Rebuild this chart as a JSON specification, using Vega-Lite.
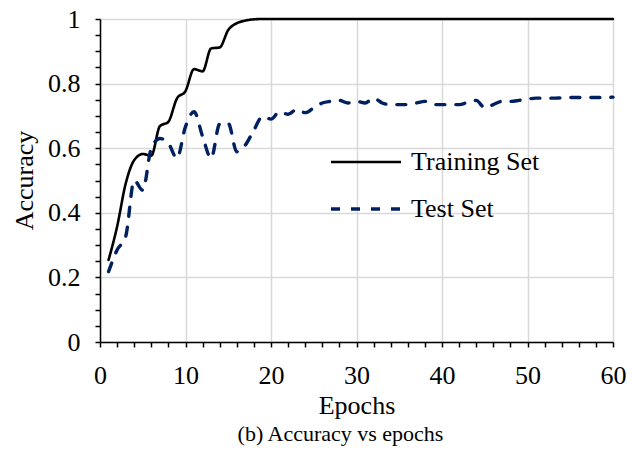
{
  "$schema": "https://vega.github.io/schema/vega-lite/v6.json",
  "autosize": {"type": "none"},
  "padding": {"left": 100, "top": 19, "right": 21, "bottom": 107},
  "width": 513,
  "height": 323,
  "background": "white",
  "title": {
    "text": "(b) Accuracy vs epochs",
    "orient": "bottom",
    "font": "Liberation Serif",
    "fontSize": 22,
    "fontWeight": "normal",
    "color": "black",
    "dx": -16,
    "offset": 6
  },
  "data": {
    "values": [
      {"epoch": 1, "set": "Training Set", "acc": 0.254},
      {"epoch": 2, "set": "Training Set", "acc": 0.357},
      {"epoch": 3, "set": "Training Set", "acc": 0.49},
      {"epoch": 4, "set": "Training Set", "acc": 0.563},
      {"epoch": 5, "set": "Training Set", "acc": 0.582},
      {"epoch": 6, "set": "Training Set", "acc": 0.577},
      {"epoch": 7, "set": "Training Set", "acc": 0.668},
      {"epoch": 8, "set": "Training Set", "acc": 0.682},
      {"epoch": 9, "set": "Training Set", "acc": 0.754},
      {"epoch": 10, "set": "Training Set", "acc": 0.777},
      {"epoch": 11, "set": "Training Set", "acc": 0.845},
      {"epoch": 12, "set": "Training Set", "acc": 0.838},
      {"epoch": 13, "set": "Training Set", "acc": 0.909},
      {"epoch": 14, "set": "Training Set", "acc": 0.912},
      {"epoch": 15, "set": "Training Set", "acc": 0.966},
      {"epoch": 16, "set": "Training Set", "acc": 0.987},
      {"epoch": 17, "set": "Training Set", "acc": 0.995},
      {"epoch": 18, "set": "Training Set", "acc": 0.999},
      {"epoch": 19, "set": "Training Set", "acc": 1},
      {"epoch": 20, "set": "Training Set", "acc": 1},
      {"epoch": 25, "set": "Training Set", "acc": 1},
      {"epoch": 30, "set": "Training Set", "acc": 1},
      {"epoch": 35, "set": "Training Set", "acc": 1},
      {"epoch": 40, "set": "Training Set", "acc": 1},
      {"epoch": 45, "set": "Training Set", "acc": 1},
      {"epoch": 50, "set": "Training Set", "acc": 1},
      {"epoch": 55, "set": "Training Set", "acc": 1},
      {"epoch": 60, "set": "Training Set", "acc": 1},
      {"epoch": 1, "set": "Test Set", "acc": 0.218},
      {"epoch": 2, "set": "Test Set", "acc": 0.285},
      {"epoch": 3, "set": "Test Set", "acc": 0.326},
      {"epoch": 4, "set": "Test Set", "acc": 0.5},
      {"epoch": 5, "set": "Test Set", "acc": 0.47},
      {"epoch": 6, "set": "Test Set", "acc": 0.6},
      {"epoch": 7, "set": "Test Set", "acc": 0.63},
      {"epoch": 8, "set": "Test Set", "acc": 0.615},
      {"epoch": 9, "set": "Test Set", "acc": 0.569},
      {"epoch": 10, "set": "Test Set", "acc": 0.667},
      {"epoch": 11, "set": "Test Set", "acc": 0.713},
      {"epoch": 12, "set": "Test Set", "acc": 0.636},
      {"epoch": 13, "set": "Test Set", "acc": 0.569},
      {"epoch": 14, "set": "Test Set", "acc": 0.675},
      {"epoch": 15, "set": "Test Set", "acc": 0.677},
      {"epoch": 16, "set": "Test Set", "acc": 0.589},
      {"epoch": 17, "set": "Test Set", "acc": 0.61},
      {"epoch": 18, "set": "Test Set", "acc": 0.656},
      {"epoch": 19, "set": "Test Set", "acc": 0.698},
      {"epoch": 20, "set": "Test Set", "acc": 0.69},
      {"epoch": 21, "set": "Test Set", "acc": 0.713},
      {"epoch": 22, "set": "Test Set", "acc": 0.705},
      {"epoch": 23, "set": "Test Set", "acc": 0.72},
      {"epoch": 24, "set": "Test Set", "acc": 0.71},
      {"epoch": 25, "set": "Test Set", "acc": 0.725},
      {"epoch": 26, "set": "Test Set", "acc": 0.74},
      {"epoch": 27, "set": "Test Set", "acc": 0.745},
      {"epoch": 28, "set": "Test Set", "acc": 0.748},
      {"epoch": 29, "set": "Test Set", "acc": 0.74},
      {"epoch": 30, "set": "Test Set", "acc": 0.745},
      {"epoch": 31, "set": "Test Set", "acc": 0.74},
      {"epoch": 32, "set": "Test Set", "acc": 0.755},
      {"epoch": 33, "set": "Test Set", "acc": 0.74},
      {"epoch": 34, "set": "Test Set", "acc": 0.735},
      {"epoch": 35, "set": "Test Set", "acc": 0.735},
      {"epoch": 36, "set": "Test Set", "acc": 0.735},
      {"epoch": 37, "set": "Test Set", "acc": 0.74},
      {"epoch": 38, "set": "Test Set", "acc": 0.745},
      {"epoch": 39, "set": "Test Set", "acc": 0.735},
      {"epoch": 40, "set": "Test Set", "acc": 0.735},
      {"epoch": 41, "set": "Test Set", "acc": 0.735},
      {"epoch": 42, "set": "Test Set", "acc": 0.735},
      {"epoch": 43, "set": "Test Set", "acc": 0.742},
      {"epoch": 44, "set": "Test Set", "acc": 0.748},
      {"epoch": 45, "set": "Test Set", "acc": 0.725},
      {"epoch": 46, "set": "Test Set", "acc": 0.735},
      {"epoch": 47, "set": "Test Set", "acc": 0.745},
      {"epoch": 48, "set": "Test Set", "acc": 0.745},
      {"epoch": 49, "set": "Test Set", "acc": 0.748},
      {"epoch": 50, "set": "Test Set", "acc": 0.752},
      {"epoch": 51, "set": "Test Set", "acc": 0.755},
      {"epoch": 52, "set": "Test Set", "acc": 0.755},
      {"epoch": 53, "set": "Test Set", "acc": 0.755},
      {"epoch": 54, "set": "Test Set", "acc": 0.756},
      {"epoch": 55, "set": "Test Set", "acc": 0.757},
      {"epoch": 56, "set": "Test Set", "acc": 0.757},
      {"epoch": 57, "set": "Test Set", "acc": 0.757},
      {"epoch": 58, "set": "Test Set", "acc": 0.757},
      {"epoch": 59, "set": "Test Set", "acc": 0.757},
      {"epoch": 60, "set": "Test Set", "acc": 0.758}
    ]
  },
  "mark": {"type": "line", "interpolate": "monotone", "strokeCap": "round", "clip": false},
  "encoding": {
    "x": {
      "field": "epoch",
      "type": "quantitative",
      "scale": {"domain": [0, 60], "nice": false},
      "axis": {
        "title": "Epochs",
        "values": [0, 2, 4, 6, 8, 10, 12, 14, 16, 18, 20, 22, 24, 26, 28, 30, 32, 34, 36, 38, 40, 42, 44, 46, 48, 50, 52, 54, 56, 58, 60],
        "labelExpr": "datum.value % 10 === 0 ? datum.label : ''",
        "labelOverlap": false,
        "labelFlush": false,
        "labelPadding": 15,
        "gridOpacity": {"condition": {"test": "datum.value % 10 === 0", "value": 1}, "value": 0},
        "titleBaseline": "alphabetic",
        "titleY": 71
      }
    },
    "y": {
      "field": "acc",
      "type": "quantitative",
      "scale": {"domain": [0, 1], "nice": false},
      "axis": {
        "title": "Accuracy",
        "values": [0, 0.05, 0.1, 0.15, 0.2, 0.25, 0.3, 0.35, 0.4, 0.45, 0.5, 0.55, 0.6, 0.65, 0.7, 0.75, 0.8, 0.85, 0.9, 0.95, 1],
        "labelExpr": "abs(datum.value*5 - round(datum.value*5)) < 0.000001 ? format(datum.value, '.1~f') : ''",
        "labelOverlap": false,
        "labelFlush": false,
        "labelPadding": 15,
        "gridOpacity": {"condition": {"test": "abs(datum.value*5 - round(datum.value*5)) < 0.000001", "value": 1}, "value": 0},
        "titleX": -76,
        "titleY": 161,
        "titleBaseline": "middle",
        "titleAngle": -90
      }
    },
    "color": {
      "field": "set",
      "type": "nominal",
      "scale": {"domain": ["Training Set", "Test Set"], "range": ["#000000", "#002060"]},
      "legend": {"title": null}
    },
    "strokeDash": {
      "field": "set",
      "type": "nominal",
      "scale": {"domain": ["Training Set", "Test Set"], "range": [[1, 0], [9, 11]]},
      "legend": {"title": null}
    },
    "strokeWidth": {
      "field": "set",
      "type": "nominal",
      "scale": {"domain": ["Training Set", "Test Set"], "range": [2.6, 3.4]},
      "legend": null
    }
  },
  "config": {
    "view": {"stroke": null},
    "axis": {
      "domainColor": "#000000",
      "domainWidth": 1.5,
      "tickColor": "#000000",
      "tickWidth": 1.5,
      "tickSize": 5,
      "gridColor": "#d9d9d9",
      "gridWidth": 1.5,
      "labelFont": "Liberation Serif",
      "labelFontSize": 26,
      "labelColor": "#000000",
      "titleFont": "Liberation Serif",
      "titleFontSize": 26,
      "titleFontWeight": "normal",
      "titleColor": "#000000"
    },
    "legend": {
      "orient": "none",
      "legendX": 229,
      "legendY": 133,
      "padding": 0,
      "symbolType": "stroke",
      "symbolSize": 4900,
      "symbolStrokeWidth": 3,
      "clipHeight": 20,
      "rowPadding": 21,
      "labelFont": "Liberation Serif",
      "labelFontSize": 26,
      "labelColor": "#000000",
      "labelOffset": 8,
      "labelLimit": 300
    }
  }
}
